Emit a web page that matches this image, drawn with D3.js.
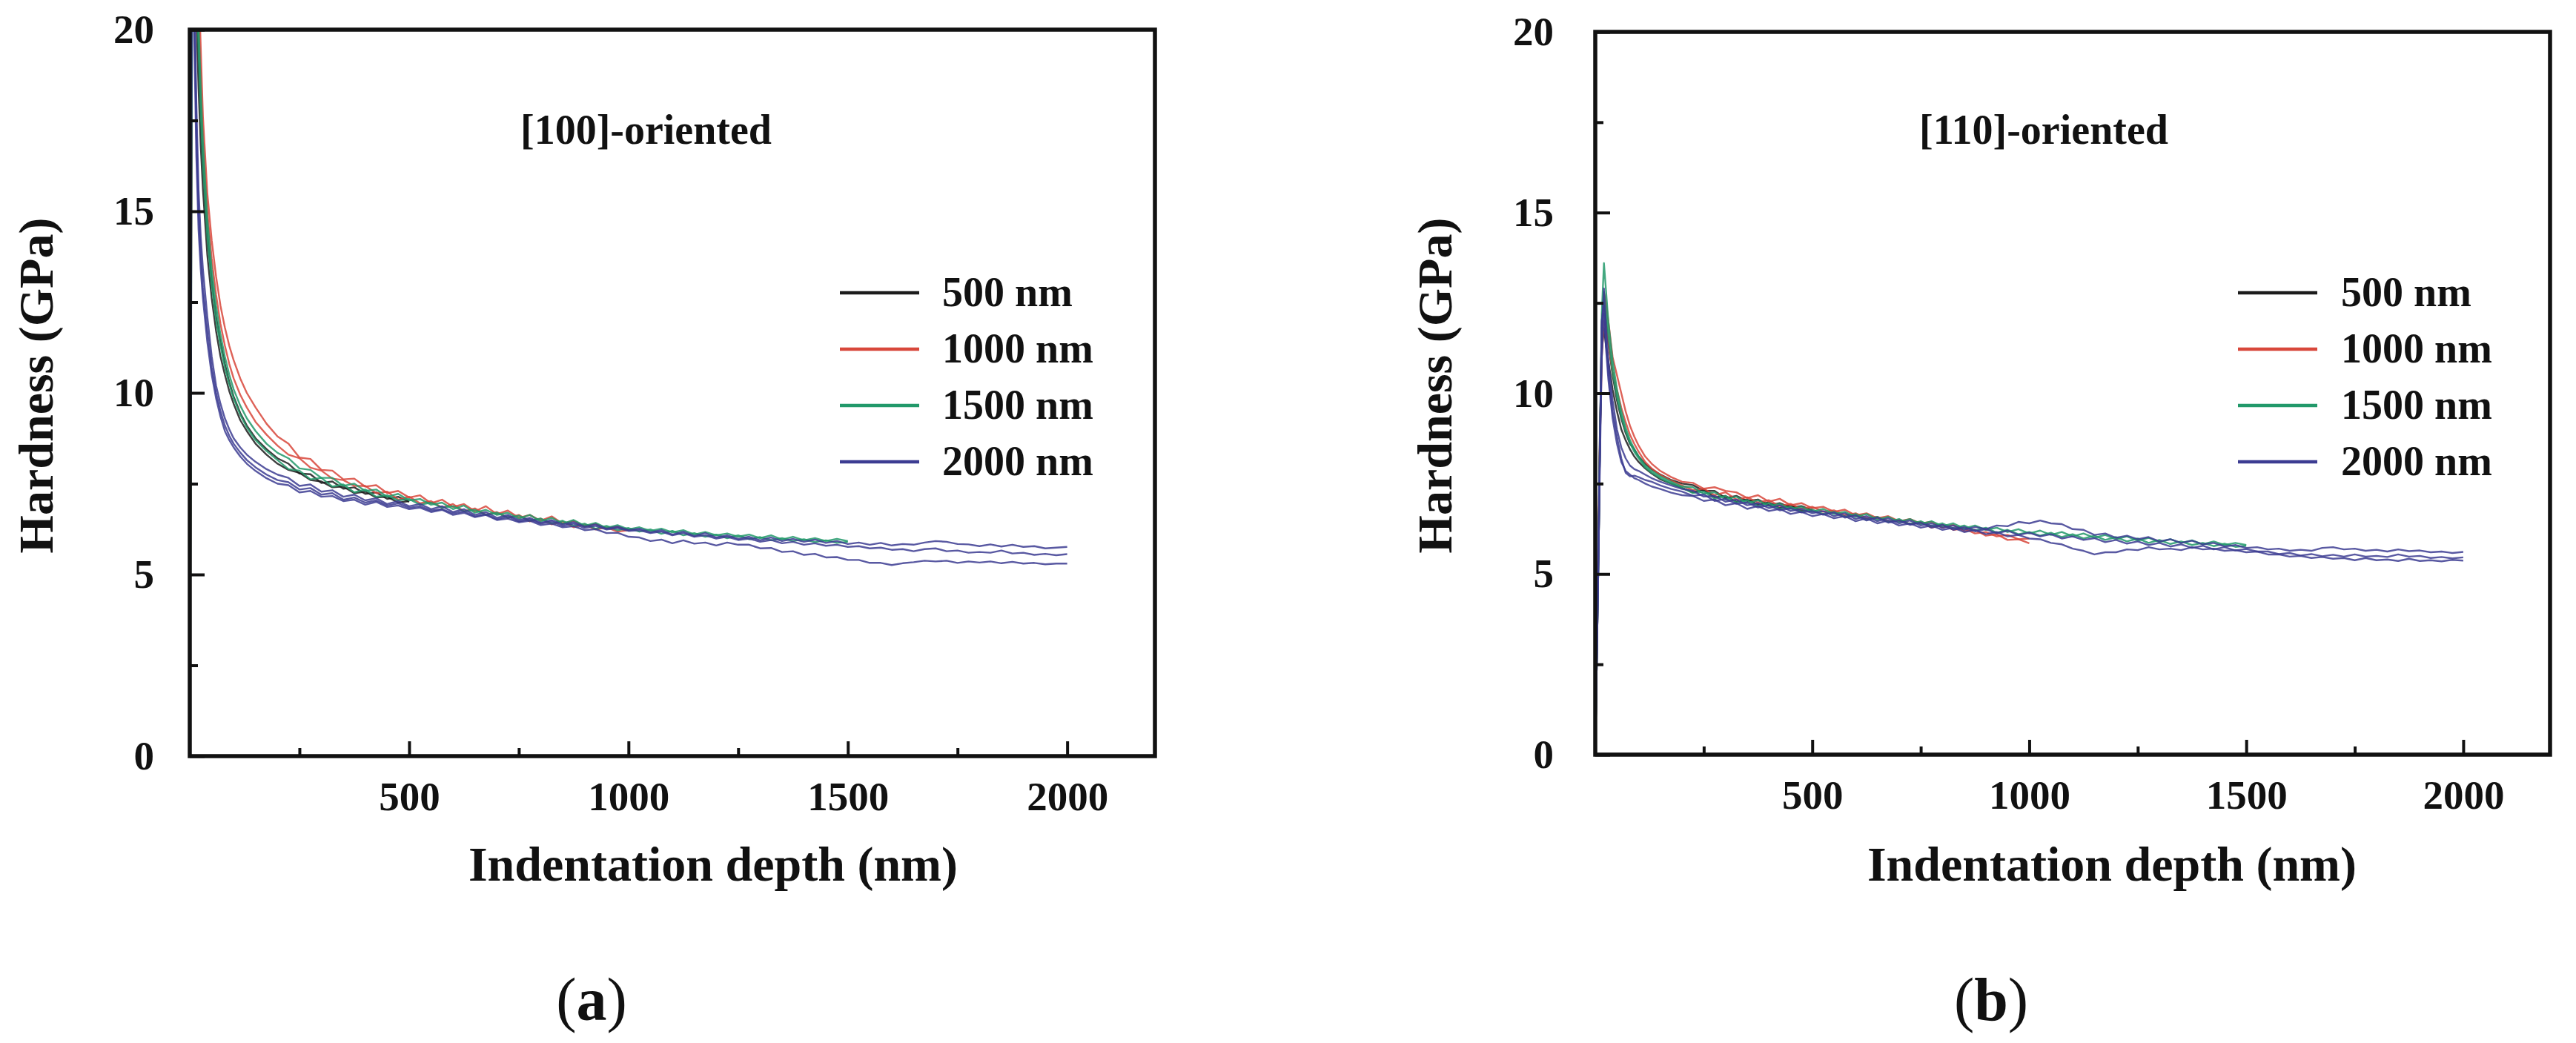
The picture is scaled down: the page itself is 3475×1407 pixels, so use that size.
<!DOCTYPE html>
<html>
<head>
<meta charset="utf-8">
<script src="https://cdn.jsdelivr.net/npm/d3@7"></script>
<style>
  html, body { margin: 0; padding: 0; background: #fff; }
  svg text { font-family: "Liberation Serif", "Times New Roman", serif; font-weight: bold; }
</style>
</head>
<body>
<svg id="chart" width="3475" height="1407"></svg>
<script>
(function(){
  'use strict';

  // indentation depth grid (nm) shared by every curve
  var DEPTH = [0,2,4,6,8,10,15,20,25,30,40,50,60,70,80,90,100,115,130,150,175,200,
    225,250,275,300,325,350,375,400,425,450,475,500,525,550,575,600,625,650,675,700,
    725,750,775,800,825,850,875,900,925,950,975,1000,1025,1050,1075,1100,1125,1150,
    1175,1200,1225,1250,1275,1300,1325,1350,1375,1400,1425,1450,1475,1500,1525,1550,
    1575,1600,1625,1650,1675,1700,1725,1750,1775,1800,1825,1850,1875,1900,1925,1950,
    1975,2000];

  var SERIES = ["500 nm", "1000 nm", "1500 nm", "2000 nm"];
  var X_TICKS = [500, 1000, 1500, 2000];
  var X_MINOR = [250, 750, 1250, 1750];
  var Y_TICKS = [0, 5, 10, 15, 20];
  var Y_MINOR = [2.5, 7.5, 12.5, 17.5];

  // hardness (GPa), [100]-oriented
  var A_500_1 = [0,9,19,24,25,24,21.5,19.3,17.6,16.3,14.4,13.1,12.1,11.4,10.8,10.3,9.9,9.45,9.1,8.75,8.45,8.2,
    8.05,7.78,7.76,7.52,7.56,7.36,7.4,7.22,7.26,7.08,7.14,7.0];
  var A_500_2 = [0,7,16,22,24,23,20.5,18.4,16.8,15.6,13.8,12.6,11.7,11.0,10.5,10.05,9.7,9.25,8.95,8.6,8.3,8.05,
    7.88,7.8,7.6,7.56,7.4,7.42,7.24,7.28,7.12,7.14,6.98,7.02];
  var A_1000_1 = [0,10,21,26,27,26.5,24,21.5,19.5,17.6,15.5,14.2,13.2,12.4,11.8,11.3,10.9,10.4,10.0,9.6,9.15,8.8,
    8.6,8.22,8.18,7.88,7.86,7.62,7.64,7.42,7.46,7.24,7.3,7.12,
    7.18,6.96,7.06,6.86,6.94,6.74,6.88,6.66,6.76,6.56,6.64,6.48,6.6,6.4,6.48,6.32,6.4,6.26,6.32,6.22];
  var A_1000_2 = [0,8,18,24,25.5,25,22.5,20.3,18.5,16.9,15.0,13.7,12.7,11.9,11.3,10.8,10.4,9.95,9.6,9.2,8.85,8.55,
    8.3,8.2,7.94,7.86,7.64,7.6,7.44,7.44,7.24,7.28,7.06,7.14,
    6.96,7.02,6.84,6.94,6.74,6.82,6.64,6.72,6.56,6.64,6.46,6.54,6.38,6.46,6.3,6.38,6.24,6.3,6.18,6.22];
  var A_1500_1 = [0,9,20,25,26,25,22.6,20.2,18.4,16.9,14.8,13.4,12.4,11.6,11.0,10.5,10.1,9.65,9.3,8.95,8.6,8.35,
    8.2,7.92,7.88,7.66,7.66,7.44,7.5,7.3,7.34,7.14,7.22,7.04,
    7.08,6.92,6.98,6.8,6.9,6.7,6.78,6.64,6.7,6.54,6.64,6.46,6.56,6.4,6.5,6.34,6.42,6.28,6.36,6.24,
    6.3,6.2,6.26,6.16,6.22,6.1,6.17,6.08,6.13,6.04,6.1,6.0,6.08,5.96,6.04,5.94,6.0,5.92,5.98,5.92];
  var A_1500_2 = [0,7,17,23,24.5,24,21.6,19.4,17.7,16.3,14.3,13.0,12.0,11.3,10.7,10.25,9.85,9.4,9.05,8.7,8.4,8.15,
    7.9,7.86,7.62,7.66,7.42,7.48,7.26,7.34,7.14,7.18,7.04,7.08,
    6.92,6.98,6.84,6.88,6.74,6.78,6.64,6.7,6.56,6.62,6.48,6.54,6.4,6.48,6.34,6.4,6.26,6.34,6.22,6.28,
    6.18,6.24,6.12,6.2,6.08,6.14,6.04,6.1,6.0,6.08,5.97,6.03,5.94,6.0,5.92,5.97,5.89,5.94,5.87,5.9];
  var A_2000_1 = [0,12,22,24,23,21.5,18.0,15.6,14.3,13.4,12.1,11.0,10.2,9.7,9.3,9.0,8.75,8.5,8.3,8.1,7.9,7.75,
    7.66,7.44,7.48,7.28,7.32,7.14,7.2,7.04,7.1,6.94,7.02,6.88,
    6.94,6.8,6.88,6.72,6.8,6.64,6.72,6.56,6.64,6.5,6.56,6.42,6.5,6.38,6.44,6.32,6.38,6.26,6.32,6.22,
    6.26,6.16,6.22,6.1,6.18,6.06,6.14,6.02,6.08,5.98,6.04,5.94,6.02,5.92,5.98,5.9,5.96,5.87,5.92,5.84,
    5.88,5.82,5.87,5.8,5.84,5.82,5.88,5.92,5.9,5.84,5.83,5.78,5.83,5.77,5.82,5.76,5.78,5.72,5.74,5.76];
  var A_2000_2 = [0,10,20,23,22.5,21,17.2,15.0,13.8,12.9,11.7,10.7,10.0,9.5,9.1,8.82,8.6,8.36,8.15,7.95,7.75,7.6,
    7.54,7.34,7.38,7.2,7.24,7.06,7.12,6.98,7.04,6.9,6.96,6.84,
    6.88,6.76,6.8,6.68,6.74,6.6,6.66,6.52,6.6,6.46,6.52,6.4,6.46,6.34,6.4,6.28,6.34,6.24,6.28,6.2,
    6.22,6.14,6.18,6.08,6.14,6.04,6.08,5.99,6.04,5.95,5.99,5.9,5.95,5.86,5.9,5.82,5.86,5.79,5.82,5.76,
    5.78,5.72,5.74,5.68,5.7,5.64,5.7,5.72,5.64,5.66,5.6,5.62,5.6,5.66,5.58,5.6,5.54,5.57,5.53,5.56];
  var A_2000_3 = [0,11,21,23.5,22,20,16.5,14.5,13.4,12.6,11.4,10.5,9.85,9.35,8.95,8.7,8.5,8.25,8.05,7.85,7.65,7.5,
    7.46,7.26,7.3,7.14,7.16,7.02,7.06,6.92,7.0,6.86,6.9,6.8,
    6.84,6.72,6.78,6.64,6.7,6.58,6.64,6.5,6.54,6.44,6.48,6.36,6.4,6.3,6.33,6.22,6.25,6.14,6.15,6.04,
    6.02,5.92,5.96,5.86,5.94,5.85,5.88,5.8,5.88,5.82,5.82,5.72,5.73,5.62,5.64,5.54,5.57,5.47,5.48,5.4,
    5.4,5.32,5.32,5.26,5.31,5.34,5.38,5.36,5.38,5.32,5.36,5.33,5.36,5.31,5.35,5.3,5.32,5.28,5.3,5.3];

  // hardness (GPa), [110]-oriented
  var B_500_1 = [0,1.5,3,4.5,6,8,12.0,12.6,12.0,11.4,10.5,9.8,9.3,8.9,8.6,8.45,8.25,8.05,7.9,7.75,7.6,7.5,
    7.46,7.3,7.3,7.1,7.16,7.02,7.06,6.9,6.96,6.84,6.88,6.76];
  var B_500_2 = [0,1.8,3.5,5,6.5,8.5,11.2,11.8,11.3,10.9,10.1,9.5,9.0,8.7,8.45,8.25,8.1,7.92,7.78,7.62,7.5,7.38,
    7.26,7.34,7.12,7.16,7.0,7.06,6.92,6.98,6.82,6.9,6.74,6.78];
  var B_1000_1 = [0,1.5,3,4.5,6,8,11.8,12.8,12.5,12.0,11.0,10.5,10.0,9.5,9.1,8.8,8.55,8.25,8.05,7.85,7.68,7.55,
    7.52,7.36,7.4,7.3,7.26,7.1,7.18,7.0,7.08,6.9,6.96,6.82,
    6.86,6.72,6.78,6.62,6.68,6.54,6.6,6.46,6.52,6.4,6.44,6.28,6.36,6.18,6.22,6.06,6.1,5.94,5.96,5.85];
  var B_1000_2 = [0,1.6,3.2,4.8,6.4,8.2,11.0,12.0,11.8,11.4,10.6,10.1,9.6,9.2,8.85,8.6,8.38,8.1,7.92,7.74,7.58,7.45,
    7.32,7.36,7.18,7.26,7.06,7.12,6.98,7.04,6.88,6.94,6.8,6.86,
    6.72,6.76,6.62,6.68,6.54,6.58,6.46,6.5,6.38,6.44,6.28,6.36,6.22,6.26,6.12,6.16,6.04,6.08,5.96,5.98];
  var B_1500_1 = [0,1.5,3,4.5,6,8,12.2,13.6,12.8,12.0,10.9,10.1,9.5,9.05,8.7,8.45,8.25,8.0,7.85,7.7,7.55,7.42,
    7.4,7.22,7.26,7.06,7.14,6.96,7.04,6.88,6.94,6.8,6.86,6.72,
    6.8,6.66,6.72,6.58,6.66,6.5,6.58,6.44,6.52,6.38,6.46,6.32,6.4,6.26,6.34,6.22,6.28,6.16,6.24,6.12,
    6.2,6.08,6.16,6.04,6.12,6.0,6.08,5.96,6.04,5.92,6.0,5.88,5.96,5.86,5.93,5.82,5.9,5.8,5.86,5.8];
  var B_1500_2 = [0,1.5,3,4.5,6,8,11.5,12.8,12.2,11.6,10.6,9.9,9.35,8.95,8.62,8.38,8.2,7.95,7.8,7.65,7.5,7.38,
    7.24,7.28,7.08,7.16,6.98,7.04,6.88,6.96,6.8,6.86,6.72,6.78,
    6.66,6.72,6.58,6.66,6.5,6.58,6.44,6.52,6.38,6.46,6.32,6.4,6.26,6.34,6.2,6.28,6.14,6.22,6.1,6.16,
    6.06,6.14,6.02,6.1,5.98,6.06,5.94,6.02,5.9,5.98,5.86,5.94,5.83,5.9,5.8,5.86,5.77,5.84,5.75,5.78];
  var B_2000_1 = [0,1.5,3,4.5,6,7.8,11.8,12.9,11.8,10.9,9.8,9.0,8.5,8.2,8.0,7.9,7.85,7.75,7.65,7.55,7.45,7.35,
    7.3,7.14,7.16,7.0,7.06,6.9,6.96,6.82,6.9,6.74,6.8,6.68,
    6.74,6.6,6.68,6.52,6.6,6.46,6.54,6.4,6.48,6.34,6.4,6.28,6.34,6.22,6.3,6.24,6.34,6.32,6.44,6.4,
    6.48,6.4,6.38,6.24,6.22,6.08,6.12,6.0,6.06,5.96,6.02,5.9,5.96,5.86,5.92,5.82,5.86,5.76,5.8,5.72,
    5.74,5.68,5.7,5.64,5.67,5.64,5.72,5.74,5.68,5.7,5.64,5.67,5.62,5.68,5.63,5.65,5.6,5.62,5.58,5.61];
  var B_2000_2 = [0,1.5,3,4.5,6,8,12.0,12.4,11.4,10.6,9.5,8.8,8.2,7.8,7.7,7.72,7.68,7.6,7.55,7.45,7.35,7.28,
    7.16,7.2,7.02,7.08,6.94,6.98,6.84,6.9,6.76,6.82,6.7,6.74,
    6.64,6.7,6.56,6.62,6.48,6.56,6.42,6.48,6.36,6.42,6.28,6.36,6.22,6.3,6.18,6.24,6.12,6.2,6.08,6.14,
    6.04,6.1,5.98,6.04,5.94,5.99,5.88,5.94,5.84,5.9,5.8,5.86,5.76,5.82,5.72,5.78,5.68,5.74,5.65,5.69,
    5.62,5.62,5.55,5.58,5.51,5.55,5.49,5.53,5.48,5.54,5.48,5.5,5.47,5.54,5.48,5.5,5.44,5.47,5.43,5.46];
  var B_2000_3 = [0,1.5,3,4.5,6,7.6,11.0,12.2,11.2,10.4,9.3,8.6,8.1,7.85,7.75,7.65,7.6,7.5,7.42,7.35,7.25,7.18,
    7.16,7.02,7.06,6.9,6.96,6.8,6.88,6.74,6.8,6.66,6.72,6.6,
    6.66,6.54,6.6,6.46,6.54,6.4,6.48,6.34,6.4,6.28,6.34,6.22,6.28,6.16,6.22,6.1,6.16,6.04,6.08,5.98,
    5.96,5.86,5.82,5.7,5.64,5.54,5.6,5.6,5.68,5.66,5.74,5.68,5.7,5.66,5.74,5.68,5.7,5.64,5.66,5.6,
    5.62,5.54,5.54,5.48,5.5,5.44,5.47,5.42,5.44,5.38,5.44,5.38,5.4,5.36,5.42,5.36,5.38,5.35,5.39,5.37];

  var COLORS = ["#1c1c1c", "#d8473b", "#22996a", "#3c3c92"];
  var INK = "#111";

  var PANELS = [
    { key: "a", title: "[100]-oriented", left: 256, right: 1558, top: 40, bottom: 1020,
      titleX: 702, legLine: 1133, legText: 1271, yPad: 48, yLabelX: 71, xLabelX: 962, tagX: 798,
      curves: [[0, A_500_1], [0, A_500_2], [1, A_1000_1], [1, A_1000_2], [2, A_1500_1], [2, A_1500_2],
               [3, A_2000_1], [3, A_2000_2], [3, A_2000_3]] },
    { key: "b", title: "[110]-oriented", left: 2152, right: 3440, top: 43, bottom: 1018,
      titleX: 2589, legLine: 3019, legText: 3158, yPad: 56, yLabelX: 1958, xLabelX: 2849, tagX: 2686,
      curves: [[0, B_500_1], [0, B_500_2], [1, B_1000_1], [1, B_1000_2], [2, B_1500_1], [2, B_1500_2],
               [3, B_2000_1], [3, B_2000_2], [3, B_2000_3]] }
  ];

  var svg = d3.select("#chart");
  svg.append("rect").attr("width", 3475).attr("height", 1407).attr("fill", "#fff");

  PANELS.forEach(function(p){
    var x = d3.scaleLinear().domain([0, 2200]).range([p.left, p.right]);
    var y = d3.scaleLinear().domain([0, 20]).range([p.bottom, p.top]);
    var g = svg.append("g").attr("class", "panel-" + p.key);

    g.append("clipPath").attr("id", "clip-" + p.key)
      .append("rect")
      .attr("x", x(0)).attr("y", y(20))
      .attr("width", x(2200) - x(0)).attr("height", y(0) - y(20));

    var line = d3.line()
      .x(function(d, i){ return x(DEPTH[i]); })
      .y(function(d){ return y(d); });

    // the curves
    g.append("g").attr("clip-path", "url(#clip-" + p.key + ")")
      .selectAll("path")
      .data(p.curves)
      .join("path")
      .attr("d", function(c){ return line(c[1]); })
      .attr("fill", "none")
      .attr("stroke", function(c){ return COLORS[c[0]]; })
      .attr("stroke-width", 2.4)
      .attr("stroke-opacity", 0.85)
      .attr("stroke-linejoin", "round");

    function styleAxis(sel, size){
      sel.select(".domain").remove();
      sel.selectAll(".tick line").attr("stroke", INK).attr("stroke-width", 4);
      sel.attr("font-size", size).attr("font-family", null);
      sel.selectAll(".tick text").attr("fill", INK);
    }

    // x axis, ticks pointing inward
    g.append("g").attr("transform", "translate(0," + y(0) + ")")
      .call(d3.axisBottom(x).tickValues(X_TICKS).tickSize(-20).tickPadding(34).tickFormat(d3.format("d")))
      .call(styleAxis, 55);
    g.append("g").attr("transform", "translate(0," + y(0) + ")")
      .call(d3.axisBottom(x).tickValues(X_MINOR).tickSize(-11).tickFormat(""))
      .call(styleAxis, 55);

    // y axis
    g.append("g").attr("transform", "translate(" + x(0) + ",0)")
      .call(d3.axisLeft(y).tickValues(Y_TICKS).tickSize(-20).tickPadding(p.yPad).tickFormat(d3.format("d")))
      .call(styleAxis, 55);
    g.append("g").attr("transform", "translate(" + x(0) + ",0)")
      .call(d3.axisLeft(y).tickValues(Y_MINOR).tickSize(-11).tickFormat(""))
      .call(styleAxis, 55);

    // frame
    g.append("rect")
      .attr("x", x(0)).attr("y", y(20))
      .attr("width", x(2200) - x(0)).attr("height", y(0) - y(20))
      .attr("fill", "none").attr("stroke", INK).attr("stroke-width", 5.5);

    // titles
    g.append("text").attr("x", p.xLabelX).attr("y", 1188)
      .attr("text-anchor", "middle").attr("font-size", 66).attr("fill", INK)
      .text("Indentation depth (nm)");
    g.append("text")
      .attr("transform", "translate(" + p.yLabelX + ",520) rotate(-90)")
      .attr("text-anchor", "middle").attr("font-size", 66).attr("fill", INK)
      .text("Hardness (GPa)");
    g.append("text").attr("x", p.titleX).attr("y", 194)
      .attr("font-size", 56).attr("fill", INK)
      .text(p.title);

    // legend
    var leg = g.append("g").selectAll("g").data(SERIES).join("g")
      .attr("transform", function(d, i){ return "translate(0," + (395 + i * 76) + ")"; });
    leg.append("line")
      .attr("x1", p.legLine).attr("x2", p.legLine + 107)
      .attr("stroke", function(d, i){ return COLORS[i]; })
      .attr("stroke-width", 4.5);
    leg.append("text")
      .attr("x", p.legText).attr("dy", "0.32em")
      .attr("font-size", 56).attr("fill", INK)
      .text(function(d){ return d; });

    // panel tag, e.g. (a)
    var tag = g.append("text").attr("x", p.tagX).attr("y", 1376)
      .attr("text-anchor", "middle").attr("font-size", 82).attr("fill", INK);
    tag.append("tspan").attr("font-weight", "normal").text("(");
    tag.append("tspan").attr("font-weight", "bold").text(p.key);
    tag.append("tspan").attr("font-weight", "normal").text(")");
  });
})();
</script>
</body>
</html>
